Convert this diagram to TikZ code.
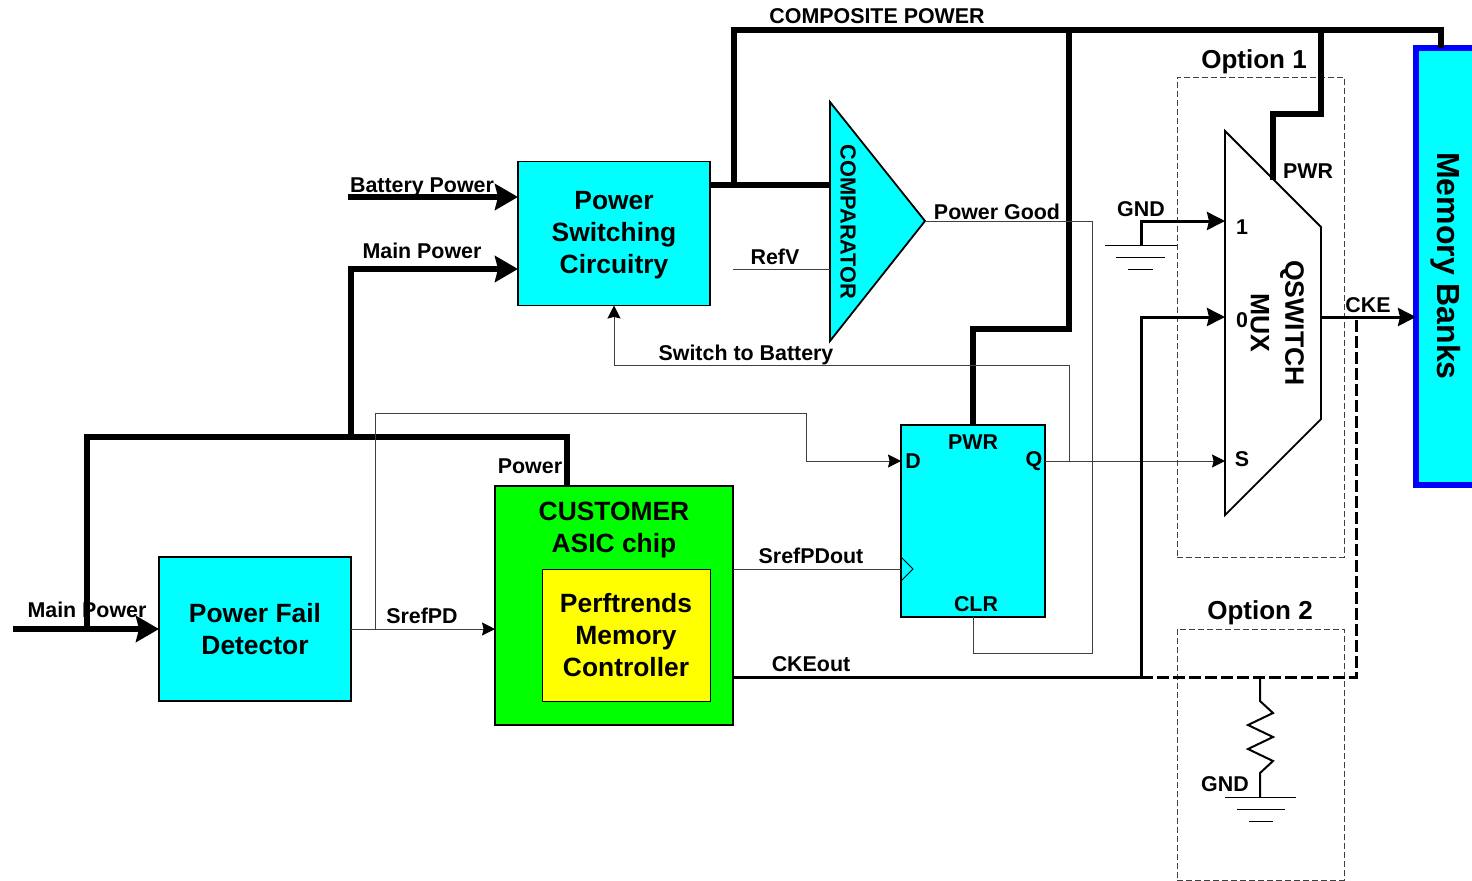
\documentclass[tikz,border=0pt]{standalone}
\usepackage{fontspec}
\setmainfont{Liberation Sans}
\usetikzlibrary{arrows.meta, positioning, calc}
\definecolor{bcyan}{HTML}{00FFFF}
\definecolor{bgreen}{HTML}{00FF00}
\definecolor{byellow}{HTML}{FFFF00}
\definecolor{bblue}{HTML}{0000FF}
\tikzset{
  block/.style={
    draw=black, fill=#1, line width=0.9pt, inner sep=0pt, outer sep=0pt,
    align=center, font=\fontsize{13.2}{16}\selectfont\bfseries
  },
  block/.default=bcyan,
  lab/.style={font=\fontsize{10.7}{12}\selectfont\bfseries, inner sep=0pt},
  biglab/.style={font=\fontsize{13}{16}\selectfont\bfseries, inner sep=0pt, align=center},
  thin wire/.style={line width=0.5pt, draw=black!75},
  thinarr/.style={thin wire, -{Stealth[black,length=6.5pt,width=6.5pt,inset=0.8pt]}},
  medwire/.style={line width=1.5pt, draw=black},
  medarr/.style={medwire, -{Stealth[length=9pt,width=9pt,inset=1pt]}},
  buswire/.style={line width=2.6pt, draw=black},
  busarr/.style={buswire, -{Stealth[length=11.5pt,width=13pt,inset=1.5pt]}},
  optbox/.style={draw=black!75, line width=0.5pt, dash pattern=on 3pt off 1.5pt},
  gndline/.style={line width=0.5pt, draw=black}
}
\begin{document}
\begin{tikzpicture}[x=0.5pt,y=-0.5pt]
  \useasboundingbox (0,0) rectangle (1472,880);
  % option boxes
  \node[optbox,minimum width=83.5pt,minimum height=240pt,inner sep=0pt,outer sep=0pt] (opta) at (1260.5,317) {};
  \node[optbox,minimum width=83.5pt,minimum height=125.5pt,inner sep=0pt,outer sep=0pt] (optb) at (1260.5,754.5) {};
  % blocks
  \node[block,minimum width=96pt,minimum height=72pt] (pfd) at (255,629) {Power Fail\\Detector};
  \node[block,minimum width=96pt,minimum height=72pt] (psc) at (614,233.5) {\rule{0pt}{11.2pt}Power\\Switching\\Circuitry};
  \node[block=bgreen,minimum width=119pt,minimum height=119.5pt] (asic) at (614,605.5) {};
  \node[block=byellow,line width=0.5pt,minimum width=84pt,minimum height=66pt] (pmc) at (626,635) {Perftrends\\Memory\\Controller};
  \node[biglab,font=\fontsize{13.2}{16}\selectfont\bfseries] (asicname) at (614,530) {CUSTOMER\\ASIC chip};
  \node[block,minimum width=72pt,minimum height=96pt] (ff) at (973,521) {};
  \node[block,draw=bblue,line width=3pt,minimum width=36pt,minimum height=218.5pt] (mem) at (1452,266.5) {};
  % comparator and mux
  \coordinate (cmpa) at (830,102);
  \coordinate (cmpb) at (925,221);
  \coordinate (cmpc) at (830,341);
  \draw[fill=bcyan,line width=0.9pt] (cmpa) -- (cmpb) -- (cmpc) -- cycle;
  \coordinate (muxa) at (1225,131);
  \coordinate (muxb) at (1321,227);
  \coordinate (muxc) at (1321,419);
  \coordinate (muxd) at (1225,515);
  \draw[line width=0.9pt] (muxa) -- (muxb) -- (muxc) -- (muxd) -- cycle;
  \draw[line width=0.5pt] (901,557) -- (913,569) -- (901,581);
  % free ends
  \coordinate (mainin) at (13,629);
  \coordinate (batin) at (348,197);
  \coordinate (mainj) at (87,629);
  \coordinate (mainup) at (87,437);
  \coordinate (pfdj) at (351,437);
  \coordinate (mainpsc) at (351,269);
  \coordinate (asicpwr) at (567,437);
  \coordinate (pscout) at (734,185);
  \coordinate (comptop) at (734,30);
  \coordinate (memtop) at (1441,30);
  \coordinate (ffj) at (1069,30);
  \coordinate (ffa) at (1069,329);
  \coordinate (ffb) at (973,329);
  \coordinate (muxj) at (1321,30);
  \coordinate (muxe) at (1321,114);
  \coordinate (muxf) at (1273,114);
  \coordinate (muxpwr) at (1273,180);
  \coordinate (refv) at (733,269);
  \coordinate (pga) at (1092,221);
  \coordinate (pgb) at (1092,653);
  \coordinate (pgc) at (973,653);
  \coordinate (sbj) at (1069,461);
  \coordinate (sba) at (1069,365);
  \coordinate (sbb) at (614,365);
  \coordinate (dj) at (375,629);
  \coordinate (da) at (375,413);
  \coordinate (db) at (806,413);
  \coordinate (dc) at (806,461);
  \coordinate (qout) at (1225,461);
  \coordinate (clkout) at (733,569);
  \coordinate (ckeout) at (733,677);
  \coordinate (ckej) at (1141,677);
  \coordinate (ckea) at (1141,317);
  \coordinate (ckeb) at (1356,677);
  \coordinate (ckec) at (1356,317);
  \coordinate (gndup) at (1141,245);
  \coordinate (gndin) at (1141,221);
  % power
  \draw[busarr] (mainin) -- (pfd.west |- mainin);
  \draw[buswire] (mainj) -- (mainup) -- (asicpwr) -- (asicpwr |- asic.north);
  \draw[busarr] (pfdj) -- (mainpsc) -- (psc.west |- mainpsc);
  \draw[busarr] (batin) -- (psc.west |- batin);
  \draw[buswire] (psc.east |- pscout) -- (cmpa |- pscout);
  \draw[buswire] (pscout) -- (comptop) -- (memtop) -- (memtop |- mem.north);
  \draw[buswire] (ffj) -- (ffa) -- (ffb) -- (ff.north);
  \draw[buswire] (muxj) -- (muxe) -- (muxf) -- (muxpwr);
  % signals
  \draw[thin wire] (refv) -- (cmpa |- refv);
  \draw[thin wire] (cmpb) -- (pga) -- (pgb) -- (pgc) -- (ff.south);
  \draw[thinarr] (sbj) -- (sba) -- (sbb) -- (psc.south);
  \draw[thinarr] (dj) -- (da) -- (db) -- (dc) -- (ff.west |- dc);
  \draw[thinarr] (pfd.east |- dj) -- (asic.west |- dj);
  \draw[thin wire] (clkout) -- (ff.west |- clkout);
  \draw[thinarr] (ff.east |- qout) -- (qout);
  % clock enable
  \draw[medwire] (ckeout) -- (ckej);
  \draw[medarr] (ckej) -- (ckea) -- (muxd |- ckea);
  \draw[medwire,dashed,dash pattern=on 6pt off 2pt] (ckej) -- (ckeb) -- (ckec);
  \draw[medarr] (muxb |- ckec) -- (mem.west |- ckec);
  \draw[medarr] (gndup) -- (gndin) -- (muxa |- gndin);
  % grounds
  \draw[gndline] (1105,245) -- (1177,245) (1116,257) -- (1165,257) (1128,269) -- (1153,269);
  \draw[line width=1pt] (1260,677) -- (1260,701) -- (1273,713) -- (1248,725) -- (1273,737)
    -- (1248,749) -- (1273,761) -- (1260,773) -- (1260,797);
  \draw[gndline] (1225,797) -- (1296,797) (1237,809) -- (1285,809) (1249,821) -- (1273,821);
  % labels
  \node[lab] (lcomp) at (877,16) {COMPOSITE POWER};
  \node[lab] (lbat) at (422,187) {Battery Power};
  \node[lab] (lmain) at (422,251) {Main Power};
  \node[lab] (lrefv) at (775,257) {RefV};
  \node[lab] (lgood) at (997,212) {Power Good};
  \node[lab] (lswitch) at (746,355) {Switch to Battery};
  \node[lab] (lpower) at (530,466) {Power};
  \node[lab] (lmainb) at (87,610) {Main Power};
  \node[lab] (lsref) at (422,616) {SrefPD};
  \node[lab] (lsrefout) at (811,556) {SrefPDout};
  \node[lab] (lcke) at (811,664) {CKEout};
  \node[lab] (lpwr) at (973,442) {PWR};
  \node[lab] (ld) at (913,461) {D};
  \node[lab] (lq) at (1034,461) {Q};
  \node[lab] (lclr) at (976,604) {CLR};
  \node[lab] (lgnd) at (1141,209) {GND};
  \node[lab] (lpwrb) at (1308,171) {PWR};
  \node[lab] (lone) at (1242,227) {1};
  \node[lab] (lzero) at (1242,320) {0};
  \node[lab] (ls) at (1242,459) {S};
  \node[lab] (lckeb) at (1368,305) {CKE};
  \node[lab] (lgndb) at (1225,784) {GND};
  \node[biglab] (lopta) at (1254,62) {Option 1};
  \node[biglab] (loptb) at (1260,613) {Option 2};
  \node[lab,font=\fontsize{10.9}{12}\selectfont\bfseries,rotate=-90] (lcmp) at (848,222) {COMPARATOR};
  \node[biglab,font=\fontsize{13.3}{14}\selectfont\bfseries,rotate=-90] (lqs) at (1292,323) {QSWITCH};
  \node[biglab,font=\fontsize{13.3}{14}\selectfont\bfseries,rotate=-90] (lmux) at (1260,323) {MUX};
  \node[biglab,font=\fontsize{16}{18}\selectfont\bfseries,rotate=-90] (lmem) at (1446,266) {Memory Banks};
\end{tikzpicture}
\end{document}
